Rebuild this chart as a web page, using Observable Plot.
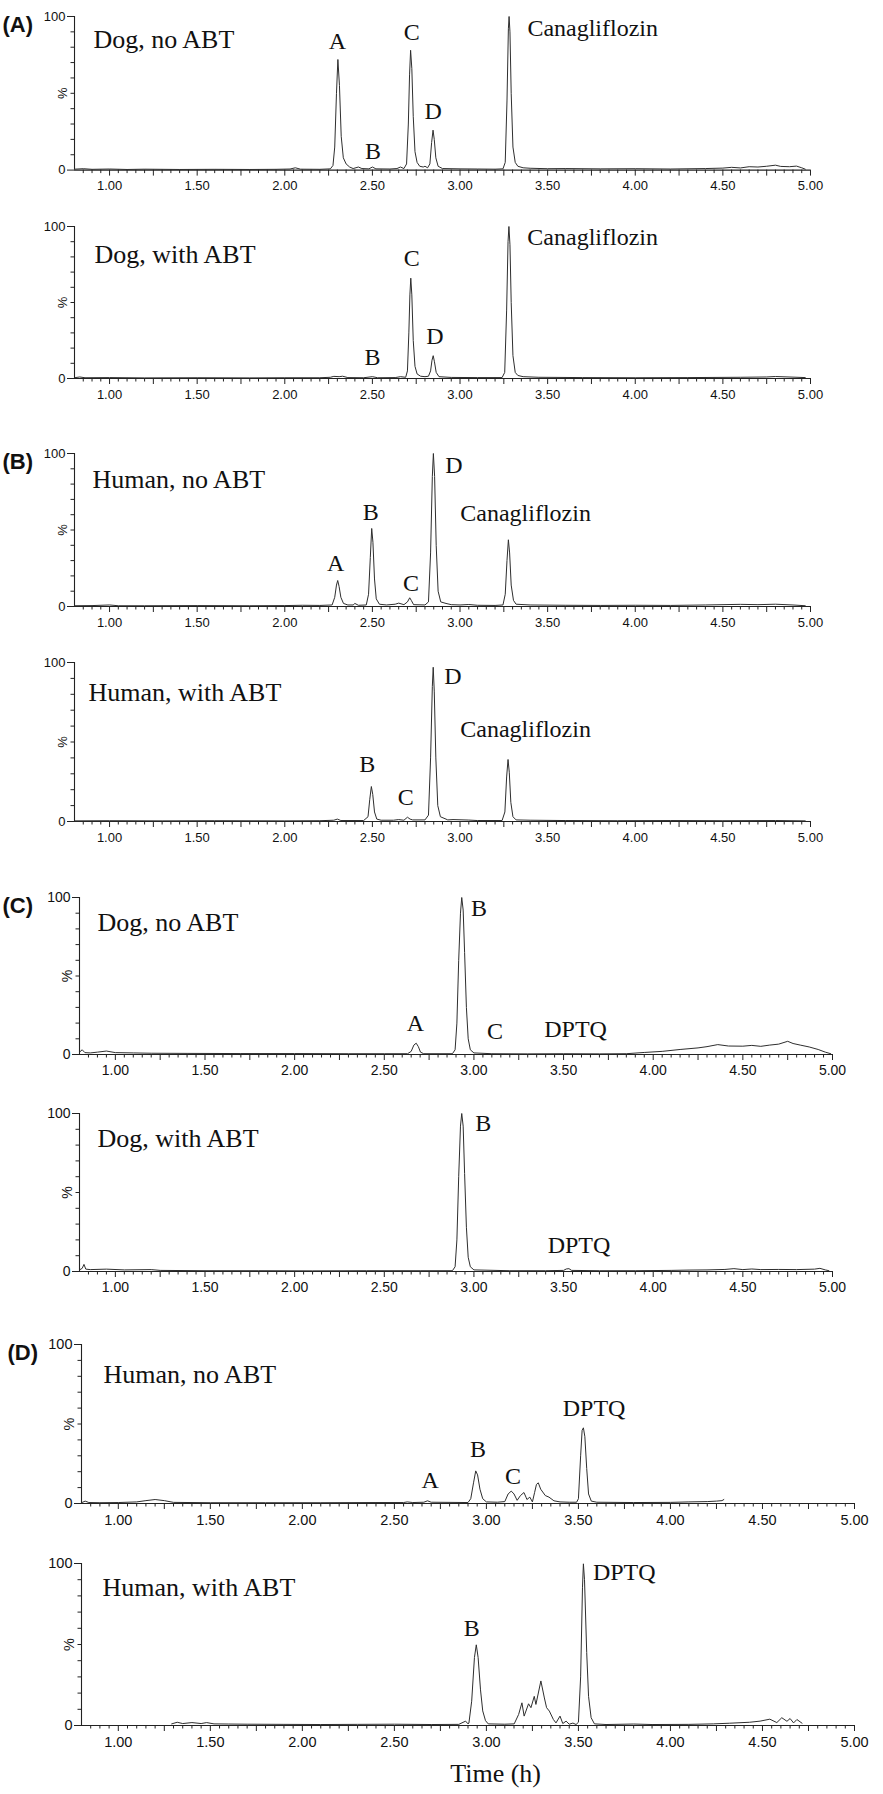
<!DOCTYPE html>
<html><head><meta charset="utf-8">
<script src="https://cdn.jsdelivr.net/npm/d3@7"></script>
<script src="https://cdn.jsdelivr.net/npm/@observablehq/plot@0.6"></script>
<style>
body{margin:0;background:#fff;}
#fig{position:relative;width:883px;height:1794px;overflow:hidden;background:#fff;}
#fig svg{position:absolute;left:0;overflow:visible;}
</style></head><body><div id="fig"></div>
<script>
// ---------- DATA (time h, relative abundance %) ----------
const traceDogNoABT_A = [[0.80,0.6],[0.85,0.9],[0.9,0.5],[1.0,0.7],[1.1,0.4],[1.2,0.6],[1.4,0.4],[1.6,0.5],[1.8,0.4],[1.95,0.5],[2.03,0.7],[2.06,1.5],[2.09,0.6],[2.2,0.5],[2.26,0.8],[2.275,3],[2.285,15],[2.295,50],[2.303,72],[2.312,55],[2.322,22],[2.334,8],[2.35,4],[2.37,2],[2.39,1],[2.42,2],[2.44,1],[2.48,0.8],[2.50,2],[2.52,0.8],[2.6,0.7],[2.64,1],[2.66,2],[2.68,1],[2.695,4],[2.705,30],[2.712,62],[2.718,78],[2.725,66],[2.733,35],[2.743,12],[2.755,5],[2.77,2.5],[2.79,2],[2.80,2.5],[2.815,1.5],[2.828,4],[2.838,18],[2.846,26],[2.853,20],[2.862,8],[2.875,2.5],[2.9,1],[3.0,0.8],[3.1,0.7],[3.2,0.6],[3.245,0.8],[3.258,5],[3.268,45],[3.276,92],[3.28,100],[3.285,90],[3.292,50],[3.302,15],[3.315,5],[3.33,2.5],[3.36,1.5],[3.4,1.2],[3.5,0.9],[3.6,1],[3.8,0.8],[4.0,0.9],[4.2,0.7],[4.4,1],[4.5,1.3],[4.55,1.8],[4.6,1.4],[4.65,2.2],[4.7,2],[4.75,2.5],[4.8,3.2],[4.83,2.4],[4.88,2.2],[4.92,2.6],[4.95,1.5],[4.97,0.6]];
const traceDogABT_A = [[0.80,0.5],[0.83,1],[0.86,0.5],[1.0,0.6],[1.2,0.4],[1.5,0.5],[1.8,0.4],[2.0,0.5],[2.2,0.5],[2.26,0.8],[2.28,1.4],[2.31,1.2],[2.33,1.5],[2.36,0.6],[2.45,0.5],[2.50,1.2],[2.53,0.5],[2.63,0.6],[2.66,1.2],[2.69,0.8],[2.70,5],[2.708,30],[2.714,55],[2.719,66],[2.725,55],[2.733,25],[2.743,8],[2.755,3],[2.775,1.5],[2.80,1.2],[2.82,1.5],[2.832,5],[2.84,12],[2.847,15],[2.854,11],[2.864,4],[2.88,1.2],[2.95,0.7],[3.1,0.6],[3.24,0.6],[3.255,4],[3.266,45],[3.274,90],[3.279,100],[3.285,88],[3.292,50],[3.302,15],[3.315,4],[3.33,2],[3.36,1.2],[3.45,0.8],[3.7,0.6],[4.0,0.5],[4.3,0.6],[4.6,0.8],[4.75,1],[4.8,1.3],[4.9,0.9],[4.97,0.6]];
const traceHumanNoABT_B = [[0.80,0.5],[0.9,0.6],[1.0,1],[1.05,0.5],[1.2,0.5],[1.5,0.6],[1.8,0.5],[2.0,0.6],[2.1,0.8],[2.2,0.7],[2.27,1],[2.285,6],[2.295,14],[2.302,17],[2.31,13],[2.32,6],[2.335,2],[2.36,1],[2.39,1],[2.40,2],[2.42,0.8],[2.465,1],[2.478,8],[2.488,32],[2.496,51],[2.503,42],[2.512,18],[2.522,5],[2.54,1.5],[2.58,1],[2.63,1.5],[2.65,2.2],[2.68,1.2],[2.70,3],[2.713,5.7],[2.722,4],[2.735,1.2],[2.80,1],[2.82,3],[2.832,35],[2.842,85],[2.848,100],[2.855,85],[2.864,40],[2.875,10],[2.89,3],[2.92,2],[2.95,1.2],[3.0,1],[3.05,1.3],[3.1,0.8],[3.2,0.7],[3.245,1],[3.258,8],[3.268,30],[3.276,43.6],[3.283,35],[3.292,14],[3.305,4],[3.32,1.5],[3.4,1],[3.6,0.8],[3.8,0.7],[4.0,0.8],[4.2,0.7],[4.4,1],[4.6,1.4],[4.7,1.2],[4.8,1.5],[4.9,1],[4.97,0.5]];
const traceHumanABT_B = [[0.80,0.4],[1.0,0.5],[1.3,0.4],[1.6,0.5],[2.0,0.4],[2.2,0.5],[2.28,0.8],[2.30,1.5],[2.32,0.6],[2.45,0.6],[2.475,3],[2.485,14],[2.494,22],[2.502,17],[2.512,6],[2.525,1.5],[2.55,0.8],[2.62,0.8],[2.65,1.2],[2.68,0.8],[2.70,2.7],[2.715,1.5],[2.73,1],[2.80,1],[2.82,4],[2.832,40],[2.842,85],[2.847,97],[2.853,82],[2.862,40],[2.873,10],[2.888,3],[2.92,1.5],[2.93,1],[2.96,1.2],[3.05,0.9],[3.1,0.6],[3.24,0.6],[3.256,6],[3.266,28],[3.274,39],[3.281,31],[3.29,12],[3.302,3],[3.32,1],[3.4,0.8],[3.6,0.6],[3.9,0.5],[4.2,0.6],[4.5,0.5],[4.8,0.6],[4.97,0.4]];
const traceDogNoABT_C = [[0.80,1.5],[0.815,3],[0.83,1.2],[0.86,1],[0.9,1.5],[0.95,2.2],[1.0,1.2],[1.1,1],[1.2,0.8],[1.4,0.7],[1.7,0.6],[2.0,0.6],[2.3,0.5],[2.5,0.5],[2.63,0.5],[2.65,2],[2.665,6],[2.678,7.2],[2.69,5],[2.702,1.5],[2.72,0.5],[2.88,0.5],[2.895,3],[2.905,20],[2.915,60],[2.925,90],[2.932,100],[2.94,92],[2.948,65],[2.958,30],[2.968,10],[2.98,3],[3.0,1],[3.1,0.5],[3.3,0.4],[3.5,0.5],[3.7,0.4],[3.85,0.5],[3.95,1.3],[4.05,2],[4.15,3.2],[4.25,4.2],[4.3,5],[4.36,6.3],[4.42,5.4],[4.5,5.3],[4.55,5.8],[4.6,5.2],[4.65,6],[4.7,6.6],[4.75,8.4],[4.78,7],[4.82,6],[4.87,4.8],[4.92,3.2],[4.96,1.5],[4.99,0.5]];
const traceDogABT_C = [[0.80,1],[0.815,2],[0.825,4.5],[0.835,1.5],[0.86,1.2],[0.95,1.5],[1.05,1],[1.2,1.2],[1.25,0.7],[1.5,0.5],[1.8,0.5],[2.1,0.4],[2.4,0.5],[2.7,0.5],[2.88,0.5],[2.895,3],[2.905,20],[2.915,60],[2.925,92],[2.932,100],[2.94,92],[2.948,62],[2.958,28],[2.968,9],[2.98,3],[3.0,1],[3.2,0.5],[3.4,0.5],[3.5,0.7],[3.515,1.6],[3.53,1.8],[3.545,0.7],[3.7,0.5],[3.9,0.5],[4.1,0.7],[4.2,0.9],[4.3,1],[4.4,1.3],[4.45,1.8],[4.5,1.2],[4.55,1.6],[4.6,1.2],[4.7,1.3],[4.8,1.2],[4.9,1.5],[4.93,2],[4.96,1],[4.98,0.5]];
const traceHumanNoABT_D = [[0.80,0.5],[0.82,1.5],[0.84,0.6],[0.9,0.5],[1.0,0.6],[1.1,1],[1.15,1.8],[1.2,2.5],[1.25,1.8],[1.3,0.7],[1.5,0.5],[1.8,0.5],[2.1,0.5],[2.4,0.6],[2.55,0.6],[2.57,1],[2.6,0.6],[2.66,0.8],[2.68,1.7],[2.70,0.8],[2.9,0.6],[2.915,3],[2.93,13],[2.942,20.5],[2.952,18],[2.965,9],[2.98,3],[3.0,1],[3.06,0.8],[3.1,1.2],[3.118,6],[3.135,7.8],[3.15,6],[3.167,2],[3.185,5],[3.204,6.9],[3.215,4],[3.22,2.5],[3.236,4],[3.25,1],[3.262,7],[3.272,12],[3.282,13],[3.295,9],[3.32,5],[3.34,4],[3.367,1.7],[3.40,1],[3.45,0.8],[3.49,0.8],[3.5,3],[3.512,30],[3.52,46],[3.527,47.6],[3.535,42],[3.545,22],[3.555,6],[3.57,1.5],[3.6,0.8],[3.8,0.6],[4.0,0.7],[4.1,1],[4.2,1.2],[4.25,1.5],[4.28,1.8],[4.29,2.5]];
const traceHumanABT_D = [[1.29,1],[1.32,2],[1.35,1.2],[1.4,1.8],[1.45,1.2],[1.48,1.8],[1.52,1],[1.6,0.9],[1.7,0.8],[1.9,0.7],[2.1,0.6],[2.3,0.7],[2.5,0.8],[2.7,0.6],[2.85,0.7],[2.887,2.7],[2.9,1],[2.905,1.5],[2.92,15],[2.935,42],[2.945,49.8],[2.955,42],[2.968,22],[2.98,9],[2.995,3],[3.01,1],[3.1,0.8],[3.151,1],[3.175,6.8],[3.193,14],[3.205,5.8],[3.229,13.4],[3.242,11],[3.26,18],[3.269,13],[3.296,27.5],[3.315,17],[3.327,11],[3.342,8.9],[3.364,3.7],[3.378,1.6],[3.40,5.8],[3.415,1.2],[3.433,2.7],[3.45,0.8],[3.47,1.5],[3.487,0.6],[3.50,2],[3.512,30],[3.522,85],[3.527,99.8],[3.533,90],[3.545,45],[3.555,18],[3.569,4.8],[3.587,1],[3.65,0.6],[3.8,0.9],[3.9,0.6],[4.1,0.7],[4.233,1],[4.32,1.4],[4.43,2],[4.487,2.7],[4.54,3.9],[4.578,1.8],[4.605,4.8],[4.633,2.6],[4.65,4.3],[4.669,1.6],[4.687,3.7],[4.715,1.4]];

const labelsDogNoABT_A = [{t:2.30,v:84,s:"A"},{t:2.503,v:12.5,s:"B"},{t:2.724,v:89.6,s:"C"},{t:2.846,v:38,s:"D"},{t:3.757,v:92,s:"Canagliflozin"}];
const labelsDogABT_A = [{t:2.50,v:14,s:"B"},{t:2.725,v:79,s:"C"},{t:2.857,v:28,s:"D"},{t:3.757,v:92.7,s:"Canagliflozin"}];
const labelsHumanNoABT_B = [{t:2.29,v:28,s:"A"},{t:2.49,v:61.7,s:"B"},{t:2.72,v:15,s:"C"},{t:2.965,v:92,s:"D"},{t:3.374,v:60.6,s:"Canagliflozin"}];
const labelsHumanABT_B = [{t:2.47,v:36,s:"B"},{t:2.69,v:15,s:"C"},{t:2.96,v:91,s:"D"},{t:3.374,v:57.7,s:"Canagliflozin"}];
const labelsDogNoABT_C = [{t:2.674,v:19.8,s:"A"},{t:3.028,v:93,s:"B"},{t:3.117,v:15,s:"C"},{t:3.567,v:16,s:"DPTQ"}];
const labelsDogABT_C = [{t:3.052,v:93.6,s:"B"},{t:3.586,v:16.7,s:"DPTQ"}];
const labelsHumanNoABT_D = [{t:2.695,v:14.7,s:"A"},{t:2.955,v:34,s:"B"},{t:3.144,v:16.8,s:"C"},{t:3.585,v:59.7,s:"DPTQ"}];
const labelsHumanABT_D = [{t:2.92,v:60,s:"B"},{t:3.749,v:94.6,s:"DPTQ"}];

const panelTitles = ["Dog, no ABT","Dog, with ABT","Human, no ABT","Human, with ABT","Dog, no ABT","Dog, with ABT","Human, no ABT","Human, with ABT"];
const panelLetters = ["(A)",null,"(B)",null,"(C)",null,"(D)",null];
const xTickLabels = [1.0,1.5,2.0,2.5,3.0,3.5,4.0,4.5,5.0];
const xQuarterTicks = [1.25,1.75,2.25,2.75,3.25,3.75,4.25,4.75];
const yTickLabels = [0,100];
const yMinorTicks = [10,20,30,40,50,60,70,80,90];
const xAxisTitle = "Time (h)";

// ---------- LAYOUT ----------
const serif = "'Liberation Serif','Times New Roman',serif";
const sans = "'Liberation Sans',Arial,sans-serif";
const groups = {
  AB: {ml: 74, x5: 810, font: 13},
  C:  {ml: 79, x5: 832, font: 14},
  D:  {ml: 81, x5: 854, font: 14.5}
};
const layout = [
  {group:"AB", top:15.7, zero:169.3, tdx:19, tdy:13, ldx:-72},
  {group:"AB", top:226, zero:378, tdx:20, tdy:18},
  {group:"AB", top:453, zero:606, tdx:18, tdy:16, ldx:-72},
  {group:"AB", top:662, zero:821, tdx:14, tdy:20},
  {group:"C", top:897, zero:1054, tdx:18, tdy:15, ldx:-77},
  {group:"C", top:1113, zero:1271, tdx:18, tdy:15},
  {group:"D", top:1344, zero:1503, tdx:22, tdy:20, ldx:-74},
  {group:"D", top:1563, zero:1725, tdx:21, tdy:14}
];
const traces = [traceDogNoABT_A, traceDogABT_A, traceHumanNoABT_B, traceHumanABT_B, traceDogNoABT_C, traceDogABT_C, traceHumanNoABT_D, traceHumanABT_D];
const labels = [labelsDogNoABT_A, labelsDogABT_A, labelsHumanNoABT_B, labelsHumanABT_B, labelsDogNoABT_C, labelsDogABT_C, labelsHumanNoABT_D, labelsHumanABT_D];

const xMinorTicks = d3.range(17, 100).map(i => Math.round(i * 5) / 100).filter(v => !xTickLabels.includes(v) && !xQuarterTicks.includes(v));

const fig = document.getElementById("fig");
layout.forEach((L, i) => {
  const g = groups[L.group];
  const last = i === layout.length - 1;
  const mt = 14, mb = last ? 70 : 34;
  const ph = L.zero - L.top;
  const data = traces[i].map(([t, v]) => ({t, v}));
  const marks = [
    Plot.axisX(xMinorTicks, {tickSize: 3.5, tickFormat: () => "", label: null, stroke: "#222"}),
    Plot.axisX(xQuarterTicks, {tickSize: 6, tickFormat: () => "", label: null, stroke: "#222"}),
    Plot.axisX(xTickLabels, {tickSize: 6, tickPadding: 5, tickFormat: d => d.toFixed(2), label: null, fontSize: g.font, fill: "#111", stroke: "#222"}),
    Plot.axisY(yMinorTicks, {tickSize: 3.5, tickFormat: () => "", label: null, stroke: "#222"}),
    Plot.axisY(yTickLabels, {tickSize: 7, tickPadding: 2, label: null, fontSize: g.font, fill: "#111", stroke: "#222"}),
    Plot.ruleY([0], {stroke: "#222", strokeWidth: 1.1}),
    Plot.ruleX([0.8], {stroke: "#222", strokeWidth: 1.1}),
    Plot.line(data, {x: "t", y: "v", stroke: "#2e2e2e", strokeWidth: 1}),
    Plot.text(labels[i], {x: "t", y: "v", text: "s", fontFamily: serif, fontSize: 24, fill: "#111"}),
    Plot.text([panelTitles[i]], {frameAnchor: "top-left", dx: L.tdx, dy: L.tdy, textAnchor: "start", fontFamily: serif, fontSize: 26, fill: "#111"}),
    Plot.text(["%"], {x: 0.8, y: 50, dx: -12, rotate: -90, fontSize: g.font, fontFamily: sans, fill: "#111"})
  ];
  if (panelLetters[i]) marks.push(Plot.text([panelLetters[i]], {frameAnchor: "top-left", dx: L.ldx, dy: 0, textAnchor: "start", fontFamily: sans, fontWeight: "bold", fontSize: 22, fill: "#111"}));
  if (last) marks.push(Plot.text([xAxisTitle], {x: 3.05, y: 0, dy: 48, fontFamily: serif, fontSize: 26, fill: "#111"}));
  const svg = Plot.plot({
    width: 883, height: mt + ph + mb,
    marginTop: mt, marginBottom: mb, marginLeft: g.ml, marginRight: 883 - g.x5,
    x: {domain: [0.8, 5], axis: null},
    y: {domain: [0, 100], axis: null},
    style: {fontFamily: sans, fontSize: g.font + "px", color: "#111", background: "transparent", overflow: "visible"},
    marks
  });
  svg.style.top = (L.top - mt) + "px";
  fig.appendChild(svg);
});
</script></body></html>
